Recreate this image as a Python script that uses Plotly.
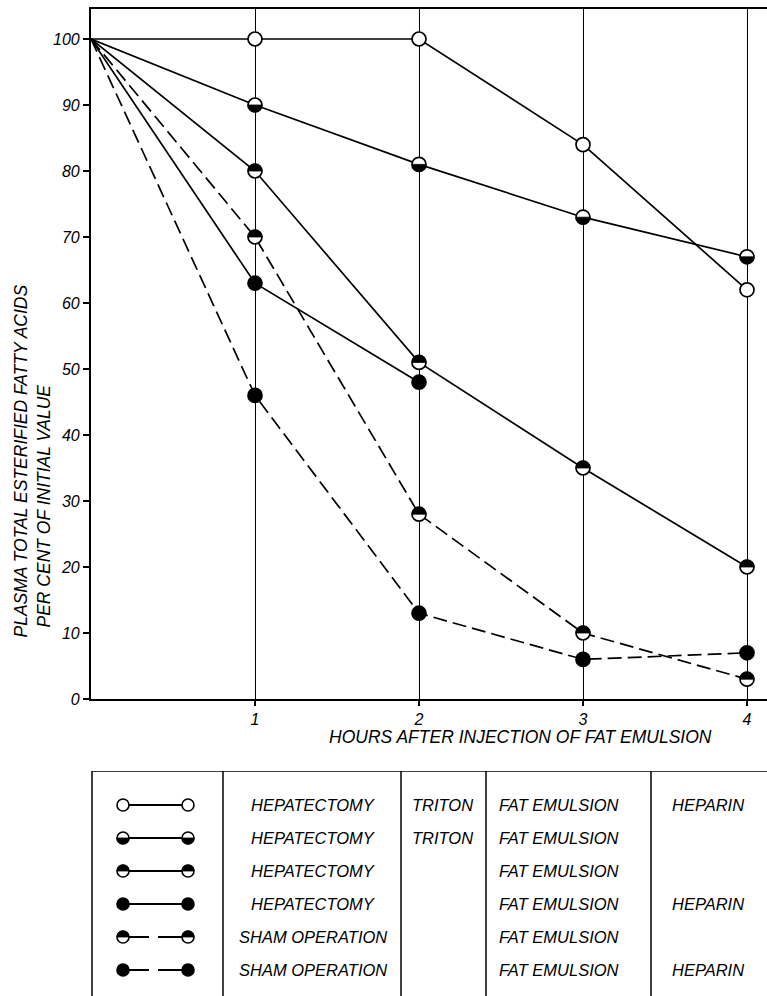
import math
import plotly.graph_objects as go

# ---------------- data ----------------
hours = [0, 1, 2, 3, 4]
hep_triton_fat_heparin = [100, 100, 100, 84, 62]
hep_triton_fat = [100, 90, 81, 73, 67]
hep_fat = [100, 80, 51, 35, 20]
hep_fat_heparin_hours = [0, 1, 2]
hep_fat_heparin = [100, 63, 48]
sham_fat = [100, 70, 28, 10, 3]
sham_fat_heparin = [100, 46, 13, 6, 7]

y_ticks = list(range(0, 101, 10))
y_grid = [20, 40, 60, 80, 100]
x_ticks = [1, 2, 3, 4]

procedure = ["HEPATECTOMY", "HEPATECTOMY", "HEPATECTOMY", "HEPATECTOMY",
             "SHAM OPERATION", "SHAM OPERATION"]
triton = ["TRITON", "TRITON", "", "", "", ""]
emulsion = ["FAT EMULSION", "FAT EMULSION", "FAT EMULSION", "FAT EMULSION",
            "FAT EMULSION", "FAT EMULSION"]
heparin = ["HEPARIN", "", "", "HEPARIN", "", "HEPARIN"]

x_title = "HOURS AFTER INJECTION OF FAT EMULSION"
y_title_1 = "PLASMA TOTAL ESTERIFIED FATTY ACIDS"
y_title_2 = "PER CENT OF INITIAL VALUE"

# (x, y, fill style, dashed)
series = [
    (hours, hep_triton_fat_heparin, "open", False),
    (hours, hep_triton_fat, "bottom", False),
    (hours, hep_fat, "top", False),
    (hep_fat_heparin_hours, hep_fat_heparin, "full", False),
    (hours, sham_fat, "top", True),
    (hours, sham_fat_heparin, "full", True),
]

# ---------------- styling ----------------
W, H = 767, 996
ML, MT = 91, 9
PH = H - MT
FONT = dict(family="Liberation Sans, Arial, sans-serif", color="black")


def fy(px):  # pixel y (from top) -> paper fraction
    return (H - px) / PH


def fx(px):
    return (px - ML) / (W - ML)


def half_path(r, top):
    n = 18
    pts = []
    for i in range(n + 1):
        a = math.pi * i / n
        px = r * math.cos(a)
        py = r * math.sin(a) if top else -r * math.sin(a)
        pts.append(f"{px:.2f},{py:.2f}")
    return "M " + " L ".join(pts) + " Z"


fig = go.Figure()
shapes = []

MAIN_DASH = "14px,6px"
LEG_DASH = "26px,9px"

# lines
for xs, ys, fill, dashed in series:
    fig.add_trace(go.Scatter(
        x=xs, y=ys, mode="lines", xaxis="x", yaxis="y",
        line=dict(color="black", width=1.7, dash=MAIN_DASH if dashed else "solid"),
        showlegend=False, hoverinfo="skip"))

# markers
for xs, ys, fill, dashed in series:
    mx, my = xs[1:], ys[1:]
    fig.add_trace(go.Scatter(
        x=mx, y=my, mode="markers", xaxis="x", yaxis="y",
        marker=dict(size=14, symbol="circle",
                    color="black" if fill == "full" else "white",
                    line=dict(color="black", width=1.7)),
        showlegend=False, hoverinfo="skip"))
    if fill in ("top", "bottom"):
        for a, b in zip(mx, my):
            shapes.append(dict(type="path", xref="x", yref="y",
                               xsizemode="pixel", ysizemode="pixel",
                               xanchor=a, yanchor=b,
                               path=half_path(7, fill == "top"),
                               fillcolor="black", line=dict(color="black", width=0.8),
                               layer="above"))

# ---------------- legend table (pixel-like axes x2/y2) ----------------
row_y = [805, 838, 871, 904, 937, 970]
leg_x = [123, 188]
for (xs, ys, fill, dashed), ry in zip(series, row_y):
    fig.add_trace(go.Scatter(
        x=leg_x, y=[ry, ry], mode="lines+markers", xaxis="x2", yaxis="y2",
        line=dict(color="black", width=1.9, dash=LEG_DASH if dashed else "solid"),
        marker=dict(size=12, symbol="circle",
                    color="black" if fill == "full" else "white",
                    line=dict(color="black", width=1.6)),
        showlegend=False, hoverinfo="skip"))
    if fill in ("top", "bottom"):
        for a in leg_x:
            shapes.append(dict(type="path", xref="x2", yref="y2",
                               xsizemode="pixel", ysizemode="pixel",
                               xanchor=a, yanchor=ry,
                               path=half_path(6, fill == "top"),
                               fillcolor="black", line=dict(color="black", width=0.8),
                               layer="above"))

annotations = []
TFONT = dict(FONT, size=16.5, style="italic")
for i, ry in enumerate(row_y):
    annotations.append(dict(x=313, y=ry, xref="x2", yref="y2", text=procedure[i],
                            showarrow=False, xanchor="center", yanchor="middle", font=TFONT))
    if triton[i]:
        annotations.append(dict(x=442, y=ry, xref="x2", yref="y2", text=triton[i],
                                showarrow=False, xanchor="center", yanchor="middle", font=TFONT))
    annotations.append(dict(x=497, y=ry, xref="x2", yref="y2", text=emulsion[i],
                            showarrow=False, xanchor="left", yanchor="middle", font=TFONT))
    if heparin[i]:
        annotations.append(dict(x=708, y=ry, xref="x2", yref="y2", text=heparin[i],
                                showarrow=False, xanchor="center", yanchor="middle", font=TFONT))

# table borders
shapes.append(dict(type="line", xref="x2", yref="y2", x0=92, x1=767, y0=771, y1=771,
                   line=dict(color="black", width=1.6)))
for vx in [92, 223, 401, 486, 651]:
    shapes.append(dict(type="line", xref="x2", yref="y2", x0=vx, x1=vx, y0=771, y1=996,
                       line=dict(color="black", width=1.5)))

# axis titles
TTL = dict(FONT, size=17.5, style="italic")
annotations.append(dict(x=fx(327), y=fy(737), xref="paper", yref="paper", text=x_title,
                        showarrow=False, xanchor="left", yanchor="middle", font=TTL))
annotations.append(dict(x=fx(20), y=fy(640), xref="paper", yref="paper", text=y_title_1,
                        showarrow=False, textangle=-90, xanchor="center", yanchor="bottom",
                        font=TTL))
annotations.append(dict(x=fx(43), y=fy(630), xref="paper", yref="paper", text=y_title_2,
                        showarrow=False, textangle=-90, xanchor="center", yanchor="bottom",
                        font=TTL))

main_dom = [fy(699), 1.0]
xr = [0, (W - ML) / 164.0]
yr = [0, (699 - MT) / 6.6]
TICKF = dict(FONT, size=16, style="italic")

fig.update_layout(
    width=W, height=H,
    margin=dict(l=ML, r=0, t=MT, b=0, pad=0, autoexpand=False),
    paper_bgcolor="white", plot_bgcolor="white",
    showlegend=False,
    xaxis=dict(domain=[0, 1], range=xr, anchor="y", automargin=False,
               tickmode="array", tickvals=x_ticks, ticktext=[str(v) for v in x_ticks],
               showgrid=True, gridcolor="black", gridwidth=1.2,
               showline=True, linecolor="black", linewidth=2, mirror=True,
               ticks="outside", ticklen=5, tickwidth=1.5, tickcolor="black",
               zeroline=False, tickfont=TICKF),
    yaxis=dict(domain=main_dom, range=yr, anchor="x", automargin=False,
               tickmode="array", tickvals=y_ticks, ticktext=[str(v) for v in y_ticks],
               showgrid=False, showline=True, linecolor="black", linewidth=2.2,
               ticks="outside", ticklen=6, tickwidth=1.5, tickcolor="black",
               zeroline=False, tickfont=TICKF),
    yaxis3=dict(overlaying="y", range=yr, anchor="x", automargin=False,
                tickmode="array", tickvals=y_grid, showticklabels=False,
                showgrid=True, gridcolor="black", gridwidth=1.2,
                showline=False, ticks="", zeroline=False),
    xaxis2=dict(domain=[0, 1], range=[ML, W], anchor="y2", visible=False),
    yaxis2=dict(domain=[0, fy(771)], range=[996, 771], anchor="x2", visible=False),
    shapes=shapes,
    annotations=annotations,
)

fig.write_html("out.html", config={"displayModeBar": False},
               post_script="document.body.style.margin='0';document.body.style.overflow='hidden';")
